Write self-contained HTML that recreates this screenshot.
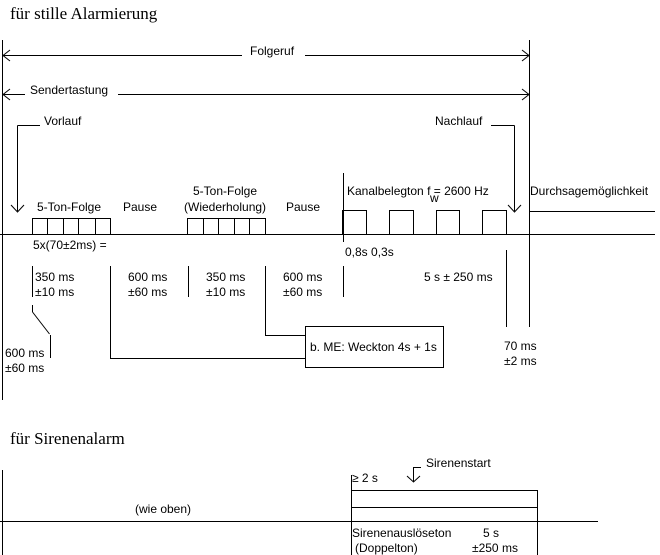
<!DOCTYPE html>
<html><head><meta charset="utf-8"><style>
body{margin:0;background:#fff}
svg{display:block}
text{font-family:"Liberation Sans",Arial,sans-serif;font-size:12px;fill:#000}
.s{font-family:"Liberation Serif",serif;font-size:17px}
</style></head><body>
<svg width="660" height="555" viewBox="0 0 660 555" xmlns="http://www.w3.org/2000/svg">
<g stroke="#000" stroke-width="1" fill="none" shape-rendering="crispEdges">
<line x1="2.5" y1="40" x2="2.5" y2="400"/>
<line x1="529.5" y1="40" x2="529.5" y2="327"/>
<!-- Folgeruf -->
<line x1="3" y1="55.5" x2="242" y2="55.5"/><line x1="305" y1="55.5" x2="528" y2="55.5"/>
<!-- Sendertastung -->
<line x1="3" y1="94.5" x2="25" y2="94.5"/><line x1="118" y1="94.5" x2="528" y2="94.5"/>
<!-- Vorlauf -->
<line x1="17.5" y1="125.5" x2="40" y2="125.5"/><line x1="17.5" y1="125.5" x2="17.5" y2="211"/>
<!-- Nachlauf -->
<line x1="491" y1="125.5" x2="514.5" y2="125.5"/><line x1="514.5" y1="125.5" x2="514.5" y2="211"/>
<!-- baseline -->
<line x1="0" y1="234.5" x2="655" y2="234.5"/>
<line x1="529" y1="211.5" x2="655" y2="211.5"/>
<!-- 5-ton boxes -->
<rect x="32.5" y="218.5" width="78" height="16"/>
<line x1="47.5" y1="218" x2="47.5" y2="234"/><line x1="63.5" y1="218" x2="63.5" y2="234"/><line x1="78.5" y1="218" x2="78.5" y2="234"/><line x1="95.5" y1="218" x2="95.5" y2="234"/>
<rect x="187.5" y="218.5" width="78" height="16"/>
<line x1="203.5" y1="218" x2="203.5" y2="234"/><line x1="218.5" y1="218" x2="218.5" y2="234"/><line x1="234.5" y1="218" x2="234.5" y2="234"/><line x1="249.5" y1="218" x2="249.5" y2="234"/>
<!-- kanal boxes -->
<polyline points="342.5,234 342.5,210.5 366.5,210.5 366.5,234"/>
<polyline points="389.5,234 389.5,210.5 413.5,210.5 413.5,234"/>
<polyline points="436.5,234 436.5,210.5 459.5,210.5 459.5,234"/>
<polyline points="482.5,234 482.5,210.5 506.5,210.5 506.5,234"/>
<line x1="343.5" y1="173" x2="343.5" y2="242"/><line x1="343.5" y1="266" x2="343.5" y2="297"/>
<!-- ticks -->
<line x1="32.5" y1="266" x2="32.5" y2="297"/>
<polyline points="110.5,266 110.5,358.5 305,358.5"/>
<line x1="188.5" y1="266" x2="188.5" y2="297"/>
<polyline points="265.5,266 265.5,335.5 305,335.5"/>
<rect x="305.5" y="326.5" width="138" height="41"/>
<line x1="506.5" y1="250" x2="506.5" y2="327"/>
<polyline points="32.5,305 32.5,312" /><line x1="32.5" y1="312" x2="49.5" y2="334" shape-rendering="auto"/><line x1="50.5" y1="335" x2="50.5" y2="358"/>
<!-- bottom -->
<line x1="2.5" y1="470" x2="2.5" y2="555"/>
<line x1="0" y1="521.5" x2="598" y2="521.5"/>
<line x1="351.5" y1="475" x2="351.5" y2="555"/>
<line x1="537.5" y1="490" x2="537.5" y2="555"/>
<line x1="351" y1="490.5" x2="537" y2="490.5"/>
<line x1="351" y1="507.5" x2="537" y2="507.5"/>
<polyline points="421,467.5 413.5,467.5 413.5,482"/>
</g>
<g stroke="#000" stroke-width="1" fill="none">
<polyline points="10,50 3,55.5 10,61"/><polyline points="522,50 529,55.5 522,61"/>
<polyline points="10,89 3,94.5 10,100"/><polyline points="522,89 529,94.5 522,100"/>
<polyline points="11,205 17.5,212 24,205"/>
<polyline points="508,205 514.5,212 521,205"/>
<polyline points="407,476 413.5,482 420,476"/>
</g>
<text class="s" x="10" y="19">für stille Alarmierung</text>
<text class="s" x="10" y="444">für Sirenenalarm</text>
<text x="250" y="55">Folgeruf</text>
<text x="30" y="94">Sendertastung</text>
<text x="44" y="125">Vorlauf</text>
<text x="435" y="125">Nachlauf</text>
<text x="37" y="211">5-Ton-Folge</text>
<text x="123" y="211">Pause</text>
<text x="193" y="195">5-Ton-Folge</text>
<text x="184" y="211">(Wiederholung)</text>
<text x="286" y="211">Pause</text>
<text x="347" y="195">Kanalbelegton f  = 2600 Hz</text>
<text x="430" y="202">w</text>
<text x="530" y="195">Durchsagemöglichkeit</text>
<text x="33" y="249">5x(70±2ms) =</text>
<text x="345" y="256">0,8s 0,3s</text>
<text x="35" y="281">350 ms</text><text x="35" y="296">±10 ms</text>
<text x="128" y="281">600 ms</text><text x="128" y="296">±60 ms</text>
<text x="206" y="281">350 ms</text><text x="206" y="296">±10 ms</text>
<text x="283" y="281">600 ms</text><text x="283" y="296">±60 ms</text>
<text x="424" y="281">5 s ± 250 ms</text>
<text x="5" y="357">600 ms</text><text x="5" y="372">±60 ms</text>
<text x="310" y="351">b. ME: Weckton 4s + 1s</text>
<text x="504" y="350">70 ms</text><text x="504" y="365">±2 ms</text>
<text x="426" y="467">Sirenenstart</text>
<text x="352" y="482">≥ 2 s</text>
<text x="135" y="513">(wie oben)</text>
<text x="352" y="537">Sirenenauslöseton</text>
<text x="355" y="552">(Doppelton)</text>
<text x="483" y="537">5 s</text>
<text x="472" y="552">±250 ms</text>
</svg>
</body></html>
